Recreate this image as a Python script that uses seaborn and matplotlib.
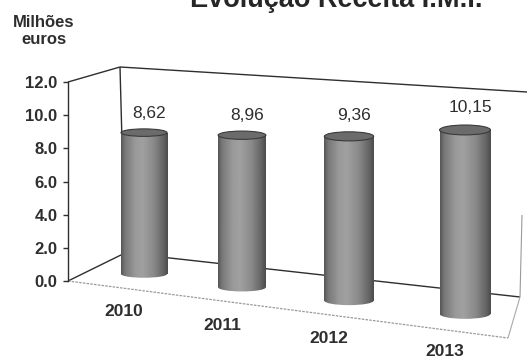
import numpy as np
import pandas as pd
import matplotlib
matplotlib.use("Agg")
import matplotlib.pyplot as plt
import matplotlib.transforms as mtransforms
from matplotlib.patches import Ellipse
import seaborn as sns

# ---- data -------------------------------------------------------------
anos = ["2010", "2011", "2012", "2013"]
receita = [8.62, 8.96, 9.36, 10.15]          # milhões de euros
y_ticks = [0, 2, 4, 6, 8, 10, 12]
titulo = "Evolução Receita I.M.I."
unidade = "Milhões\neuros"

W_PX, H_PX = 527, 361
INK = "#2e2e2e"


class Perspective(mtransforms.Transform):
    """Maps (category, value) onto the pixel grid of an oblique 3-D view:
    the floor drops to the right and the columns grow toward the viewer."""
    input_dims = output_dims = 2
    is_separable = False
    has_inverse = False

    def __init__(self, x0=144.0, step=93.5, bend=4.5, slot=96.0,
                 base0=274.0, drop=13.3, unit=16.4, swell=0.035):
        super().__init__()
        self.x0, self.step, self.bend, self.slot = x0, step, bend, slot
        self.base0, self.drop, self.unit, self.swell = base0, drop, unit, swell

    def transform_non_affine(self, values):
        xy = np.asarray(values, dtype=float).reshape(-1, 2)
        x, y = xy[:, 0], xy[:, 1]
        c = np.round(x)
        grow = 1.0 + self.swell * c
        px = self.x0 + self.step * c + self.bend * c ** 2 + (x - c) * self.slot * grow
        py = self.base0 + self.drop * c - y * self.unit * grow
        return np.column_stack([px, py])


sns.set_theme(style="white")
plt.rcParams["font.family"] = ["Liberation Sans", "DejaVu Sans"]

fig = plt.figure(figsize=(W_PX / 100, H_PX / 100), dpi=100)
fig.patch.set_facecolor("white")

# full-figure canvas measured in pixels (y grows downward)
ax = fig.add_axes([0, 0, 1, 1])
df = pd.DataFrame({"ano": anos, "receita": receita})
sns.barplot(data=df, x="ano", y="receita", width=0.48, color="#8a8a8a",
            saturation=1, errorbar=None, ax=ax)

persp = Perspective()
to_px = persp + ax.transData

# ---- box: back wall, left wall and floor ---------------------------------
def seg(p, q, color=INK, lw=1.0, ls="-", z=1):
    ax.plot([p[0], q[0]], [p[1], q[1]], color=color, lw=lw, ls=ls,
            zorder=z, solid_capstyle="butt")

seg((68, 82), (120, 67))
seg((120, 67), (125, 253))
seg((120, 67), (527, 92))
seg((125, 253), (520, 297))
seg((68, 281), (125, 253))
seg((522, 215), (520, 297), color="#9a9a9a", lw=0.8)
seg((520, 297), (508, 338), color="#a8a8a8", lw=0.8)
seg((68, 281), (508, 338), color="#9a9a9a", lw=0.9, ls=(0, (2, 1)))

# ---- cylinders -----------------------------------------------------------
stops = [0.0, 0.08, 0.30, 0.45, 0.70, 0.90, 1.0]
levels = [0.34, 0.47, 0.60, 0.63, 0.54, 0.40, 0.30]
profile = np.interp(np.linspace(0, 1, 80), stops, levels)
shade = np.tile(profile, (2, 1))

for bar in list(ax.patches):
    w = bar.get_width()
    c = bar.get_x() + w / 2
    v = bar.get_height()
    bar.set_transform(to_px)
    bar.set_facecolor("none")
    bar.set_edgecolor("none")

    (lx, ty), (rx, by) = persp.transform([[c - w / 2, v], [c + w / 2, 0]])
    cx = (lx + rx) / 2
    he = 7.5 + 0.8 * round(c)

    # rounded foot
    foot = Ellipse((cx, by), rx - lx, he, facecolor="none", edgecolor="none",
                   transform=ax.transData)
    ax.add_patch(foot)
    im_foot = ax.imshow(shade, cmap="gray", vmin=0, vmax=1, aspect="auto",
                        extent=(lx, rx, by + he, by - he), zorder=2,
                        interpolation="bilinear")
    im_foot.set_clip_path(foot)

    # body
    im_body = ax.imshow(shade, cmap="gray", vmin=0, vmax=1, aspect="auto",
                        extent=(lx, rx, by, ty), zorder=3,
                        interpolation="bilinear")
    im_body.set_clip_path(bar)

    # lid
    ax.add_patch(Ellipse((cx, ty), rx - lx, he, facecolor="#6b6b6b",
                         edgecolor="#3a3a3a", lw=0.8, zorder=4,
                         transform=ax.transData))

    ax.text(cx + 5, ty - 19 - round(c), f"{v:.2f}".replace(".", ","),
            ha="center", va="center", fontsize=12.5, color=INK, zorder=5)

for i, ano in enumerate(anos):
    fx, fy = persp.transform([[i, 0]])[0]
    ax.text(fx - 20, fy + 38, ano, ha="center", va="center", fontsize=12.5,
            fontweight="bold", color=INK)

# ---- titles --------------------------------------------------------------
ax.text(336, 7, titulo, ha="center", va="baseline", fontsize=19.5,
        fontweight="bold", color="#262626")
ax.text(44, 31, unidade, ha="center", va="center", fontsize=12,
        fontweight="bold", color=INK, linespacing=1.15)

ax.set_xlim(0, W_PX)
ax.set_ylim(H_PX, 0)
ax.axis("off")

# ---- value axis ----------------------------------------------------------
ax_y = fig.add_axes([68 / W_PX, (H_PX - 281) / H_PX, 0.001, (281 - 82) / H_PX])
ax_y.set_facecolor("none")
ax_y.set_ylim(0, 12)
ax_y.set_yticks(y_ticks)
ax_y.set_yticklabels([f"{t:.1f}" for t in y_ticks], fontweight="bold",
                     fontsize=12, color=INK)
ax_y.set_xticks([])
for side in ("top", "right", "bottom"):
    ax_y.spines[side].set_visible(False)
ax_y.spines["left"].set_color(INK)
ax_y.spines["left"].set_linewidth(1.0)
ax_y.tick_params(axis="y", left=True, length=3.6, width=1.0, color=INK, pad=4)

fig.savefig("out.png", dpi=100, facecolor="white")
